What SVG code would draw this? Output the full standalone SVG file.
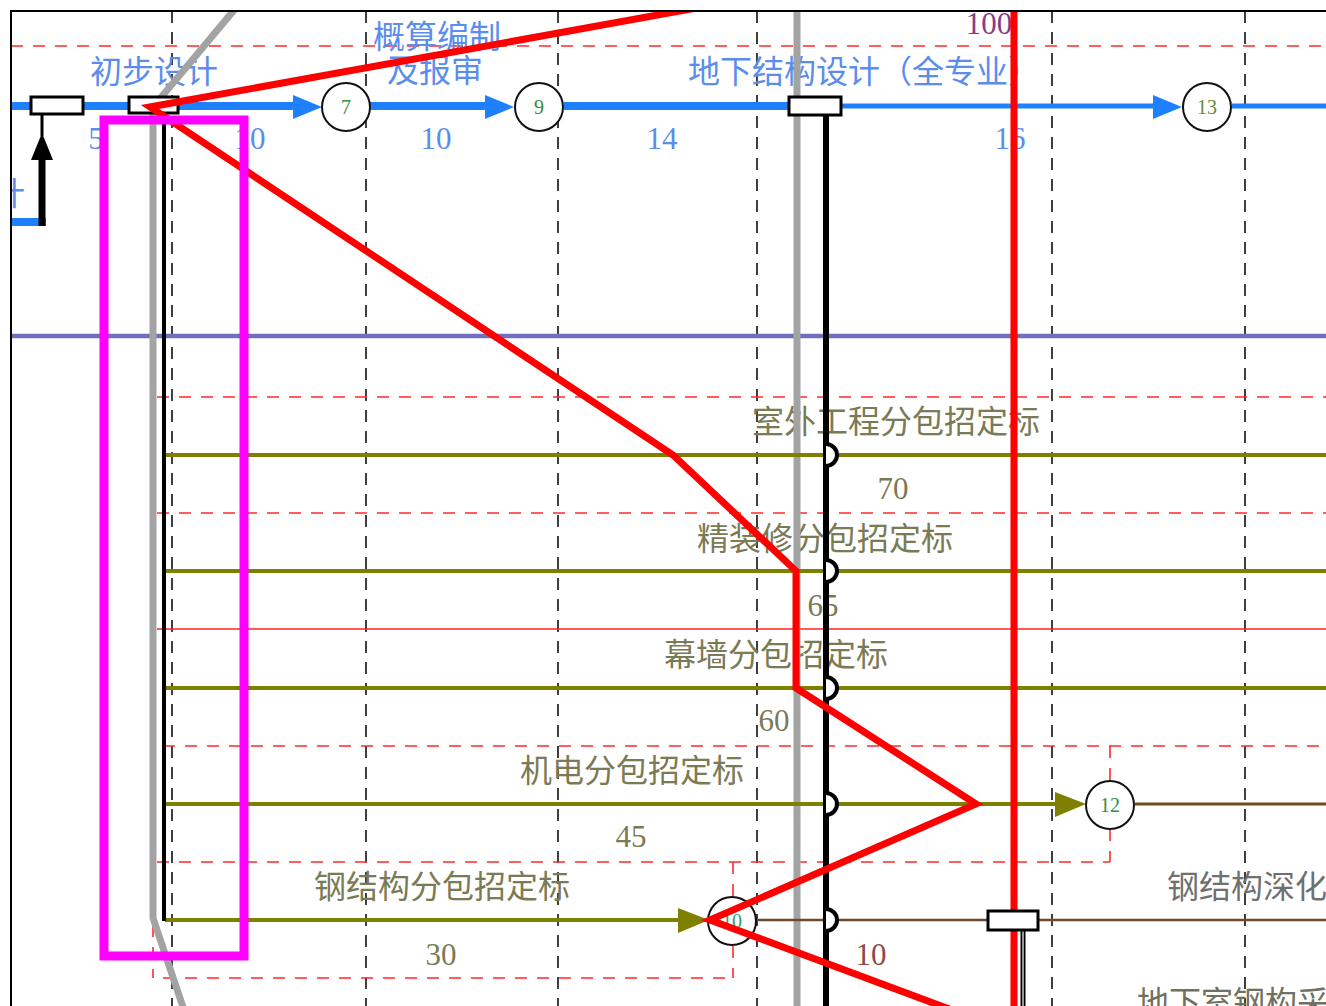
<svg xmlns="http://www.w3.org/2000/svg" width="1326" height="1006" viewBox="0 0 1326 1006">
<style>
.grid{stroke:#2a2a2a;stroke-width:1.8;stroke-dasharray:12 9;fill:none}
.rd{stroke:#ff2a2a;stroke-width:1.6;stroke-dasharray:12 10;fill:none}
.olv{stroke:#808000;stroke-width:4;fill:none}
.brn{stroke:#6e4a26;fill:none}
.blu{stroke:#1e80ff;fill:none}
.lbl{font-family:"Liberation Serif","Noto Sans CJK SC",serif;font-size:32px;text-anchor:middle}
.num{font-family:"Liberation Serif","Noto Sans CJK SC",serif;font-size:31px;text-anchor:middle}
.bt{fill:#5b8ded}
.ot{fill:#7a7a55}
.node circle{fill:#fff;stroke:#111;stroke-width:2}
.node text{font-family:"Liberation Serif",serif;font-size:20px;fill:#2f8f3f;text-anchor:middle}
.ms{fill:#fff;stroke:#000;stroke-width:3}
.hop{fill:#fff;stroke:#000;stroke-width:4}
</style>
<defs>
<clipPath id="frame"><rect x="11" y="11" width="1315" height="995"/></clipPath>
</defs>
<rect x="0" y="0" width="1326" height="1006" fill="#fff"/>
<g clip-path="url(#frame)">
<g id="grid">
<path class="grid" d="M172,11V1006M366,11V1006M558,11V1006M757,11V1006M1052,11V1006M1245,11V1006"/>
</g>
<g id="bands">
<path class="rd" d="M11,46H1326M157,397H1326M157,513H1326M163,746H1326M157,862H1110M163,978H733M1110,746V781M1110,829V862M733,862V897M733,946V978M153,925V978"/>
<path d="M157,629H1326" stroke="#ff2020" stroke-width="1.3"/>
<path d="M11,336H1326" stroke="#6e70bf" stroke-width="4.5"/>
</g>
<g id="labels">
<text class="lbl bt" x="-7" y="205" style="text-anchor:start">计</text>
<text class="lbl bt" x="154" y="83">初步设计</text>
<text class="lbl bt" x="437" y="48">概算编制</text>
<text class="lbl bt" x="435" y="82">及报审</text>
<text class="lbl bt" x="688" y="83" style="text-anchor:start">地下结构设计（全专业）</text>
<text class="num bt" x="96" y="149">5</text>
<text class="num bt" x="250" y="149">10</text>
<text class="num bt" x="436" y="149">10</text>
<text class="num bt" x="662" y="149">14</text>
<text class="num bt" x="1010" y="149">16</text>
<text class="num" x="989" y="34" fill="#8a3a86">100</text>
<text class="lbl ot" x="896" y="433">室外工程分包招定标</text>
<text class="num ot" x="893" y="499">70</text>
<text class="lbl ot" x="825" y="550">精装修分包招定标</text>
<text class="num ot" x="823" y="616">65</text>
<text class="lbl ot" x="776" y="666">幕墙分包招定标</text>
<text class="num ot" x="774" y="731">60</text>
<text class="lbl ot" x="632" y="782">机电分包招定标</text>
<text class="num ot" x="631" y="847">45</text>
<text class="lbl ot" x="442" y="898">钢结构分包招定标</text>
<text class="num ot" x="441" y="965">30</text>
<text class="num" x="871" y="965" fill="#8b4a4a">10</text>
<text class="lbl" x="1167" y="898" fill="#707070" style="text-anchor:start">钢结构深化</text>
<text class="lbl" x="1137" y="1014" fill="#707060" style="text-anchor:start">地下室钢构采</text>
</g>
<g id="connectors">
<polyline points="240,3 153,107 153,918 184,1010" fill="none" stroke="#a3a3a3" stroke-width="7"/>
<path d="M797,0V1006" stroke="#a3a3a3" stroke-width="7"/>
<path class="blu" stroke-width="8" d="M11,106H31M83,106H129M178,106H300M370,106H490M564,106H789"/>
<path class="blu" stroke-width="5" d="M841,106H1160M1232,106H1326"/>
<path class="blu" stroke-width="8" d="M11,222H46"/>
<polygon points="293,95 322,107 293,119" fill="#1e80ff"/>
<polygon points="485,95 514,107 485,119" fill="#1e80ff"/>
<polygon points="1153,95 1182,107 1153,119" fill="#1e80ff"/>
<path d="M42,226V155" stroke="#000" stroke-width="7"/>
<path d="M42,114V136" stroke="#000" stroke-width="3"/>
<polygon points="42,133 31,160 53,160" fill="#000"/>
<path class="olv" d="M165,455H1326M165,571H1326M165,688H1326M165,804H1060M165,920H682"/>
<polygon points="1055,792 1086,804 1055,817" fill="#808000"/>
<polygon points="678,908 709,920 678,933" fill="#808000"/>
<path class="brn" stroke-width="3" d="M1135,804H1326"/>
<path class="brn" stroke-width="2.5" d="M757,920H988M1038,920H1326"/>
<path d="M164,113V921" stroke="#000" stroke-width="4"/>
<path d="M826,115V1006" stroke="#000" stroke-width="6"/>
<path class="hop" d="M826,444A11,11 0 0 1 826,466"/>
<path class="hop" d="M826,560A11,11 0 0 1 826,582"/>
<path class="hop" d="M826,677A11,11 0 0 1 826,699"/>
<path class="hop" d="M826,793A11,11 0 0 1 826,815"/>
<path class="hop" d="M826,909A11,11 0 0 1 826,931"/>
<path d="M1014,0V1006" stroke="#ff0000" stroke-width="7"/>
<path d="M1023,930V1006" stroke="#000" stroke-width="5"/>
<path d="M1023,930V1006" stroke="#fff" stroke-width="1.2"/>
</g>
<g id="ms1"><rect class="ms" x="31" y="97" width="52" height="17"/></g>
<g id="ms2"><rect class="ms" x="129" y="97" width="49" height="16"/></g>
<g id="ms3"><rect class="ms" x="789" y="97" width="52" height="18"/></g>
<g id="ms4"><rect class="ms" x="988" y="911" width="50" height="19"/></g>
<g id="n7" class="node"><circle cx="346" cy="107" r="24"/><text x="346" y="114">7</text></g>
<g id="n9" class="node"><circle cx="539" cy="107" r="24"/><text x="539" y="114">9</text></g>
<g id="n13" class="node"><circle cx="1207" cy="107" r="24"/><text x="1207" y="114" style="fill:#6b8a3a">13</text></g>
<g id="n12" class="node"><circle cx="1110" cy="805" r="24"/><text x="1110" y="812">12</text></g>
<g id="n10" class="node"><circle cx="732" cy="921" r="24"/><text x="732" y="928" style="fill:#2fa070">10</text></g>
<g id="critical">
<polyline points="768,-5 150,107 673,455 796,571 796,688 976,804 710,920 960,1013" fill="none" stroke="#ff0000" stroke-width="7" stroke-linejoin="miter" stroke-miterlimit="6"/>
</g>
<g id="highlight">
<rect x="104" y="120" width="140" height="836" fill="none" stroke="#ff00ff" stroke-width="9"/>
</g>
</g>
<path d="M11,1006V11H1326" fill="none" stroke="#000" stroke-width="2"/>
</svg>
